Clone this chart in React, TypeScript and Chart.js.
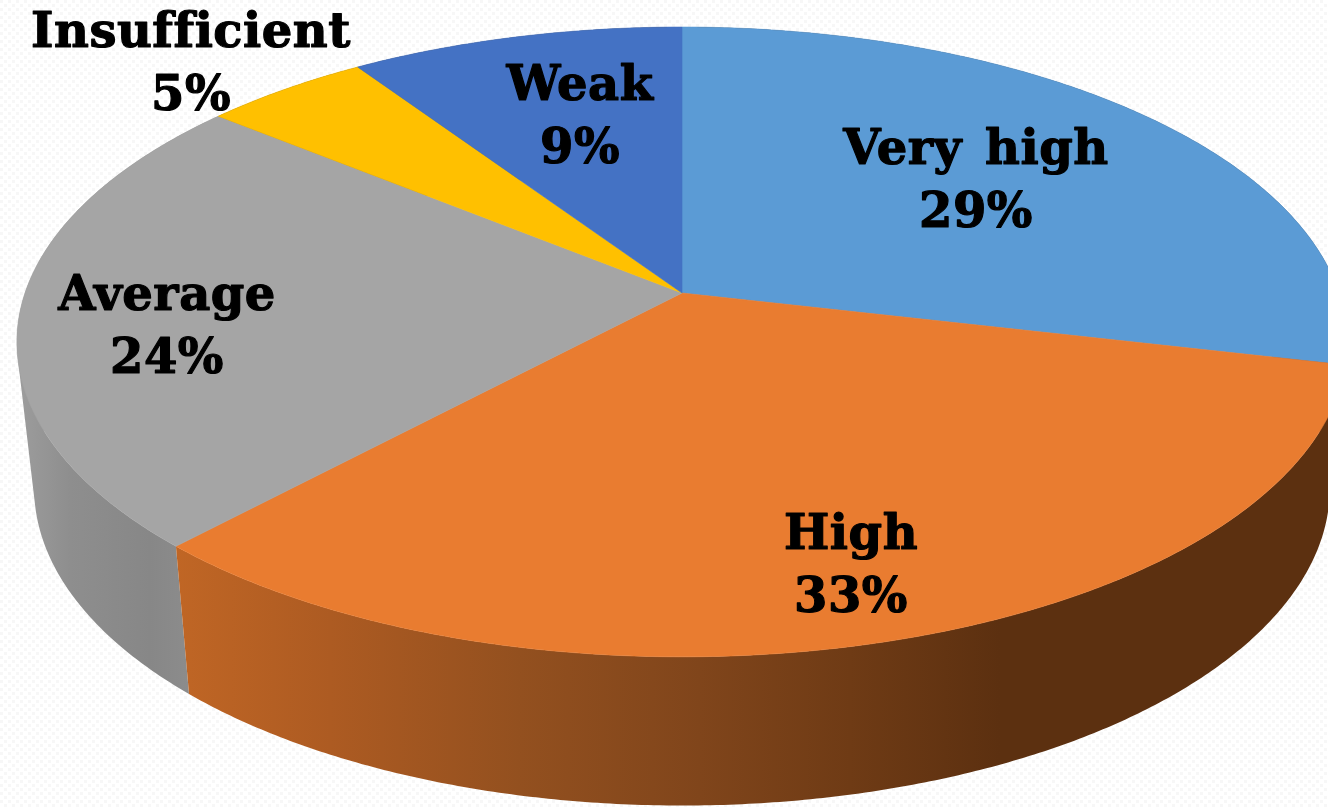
import React, { useEffect, useRef } from "react";
import { Chart, registerables } from "chart.js";

Chart.register(...registerables);

// Data
const categories = ["Very high", "High", "Average", "Insufficient", "Weak"];
const shares = [28.6, 33.3, 23.9, 4.7, 9.4];
const sliceColors = ["#5B9BD5", "#E97C30", "#A5A5A5", "#FFC000", "#4472C4"];

// Label anchors: [centre x, name baseline y]
const labelAnchors: [number, number][] = [
  [976, 164],
  [851, 549],
  [167, 310],
  [191, 47],
  [580, 100],
];

// Projection of the flat disc to the tilted view
const K = 0.1554;
const topDisc = { x: 682, y: 293, a: 657, b: 307.3 };
const lowDisc = { x: 682, y: 438.5, a: 640, b: 310 };

function project(d: typeof topDisc, angle: number): [number, number] {
  const u = Math.cos(angle);
  const v = Math.sin(angle);
  const w = 1 - K * v;
  return [d.x + (d.a * u) / w, d.y + (d.b * v) / w];
}

function samples(start: number, end: number): number[] {
  const n = Math.max(8, Math.ceil(Math.abs(end - start) * 120));
  const out: number[] = [];
  for (let i = 0; i <= n; i++) out.push(start + ((end - start) * i) / n);
  return out;
}

function wallFill(ctx: CanvasRenderingContext2D, index: number) {
  const g = ctx.createLinearGradient(20, 0, 1060, 0);
  const x = (px: number) => (px - 20) / 1040;
  if (index === 1) {
    g.addColorStop(x(175), "#C06625");
    g.addColorStop(x(330), "#AD5B22");
    g.addColorStop(x(520), "#93501F");
    g.addColorStop(x(700), "#80451B");
    g.addColorStop(x(850), "#6F3B15");
    g.addColorStop(x(1000), "#5C3010");
    g.addColorStop(1, "#5C3010");
    return g;
  }
  if (index === 2) {
    g.addColorStop(0, "#9C9C9C");
    g.addColorStop(x(70), "#8E8E8E");
    g.addColorStop(x(150), "#878787");
    g.addColorStop(x(190), "#8C8C8C");
    return g;
  }
  return "#3A3A3A";
}

function paperPattern(ctx: CanvasRenderingContext2D) {
  const tile = document.createElement("canvas");
  tile.width = 8;
  tile.height = 8;
  const t = tile.getContext("2d")!;
  t.fillStyle = "#FFFFFF";
  t.fillRect(0, 0, 8, 8);
  t.fillStyle = "#F7F7F7";
  t.fillRect(0, 0, 3, 3);
  t.fillRect(4, 4, 3, 3);
  return ctx.createPattern(tile, "repeat")!;
}

const pie3d = {
  id: "pie3d",
  beforeDraw(chart: Chart) {
    const ctx = chart.ctx;
    ctx.save();
    ctx.fillStyle = paperPattern(ctx);
    ctx.fillRect(0, 0, chart.width, chart.height);
    ctx.restore();
  },
  beforeDatasetDraw(chart: Chart) {
    const ctx = chart.ctx;
    const arcs = chart.getDatasetMeta(0).data as any[];
    // side walls, back to front: one path of equally wound strips, so folds stay filled
    [4, 3, 0, 2, 1].forEach((i) => {
      const { startAngle, endAngle } = arcs[i];
      const angles = samples(startAngle, endAngle);
      ctx.beginPath();
      for (let j = 0; j < angles.length - 1; j++) {
        const quad = [
          project(topDisc, angles[j]),
          project(topDisc, angles[j + 1]),
          project(lowDisc, angles[j + 1]),
          project(lowDisc, angles[j]),
        ];
        let area = 0;
        quad.forEach(([x, y], q) => {
          const [nx, ny] = quad[(q + 1) % 4];
          area += x * ny - nx * y;
        });
        if (area < 0) quad.reverse();
        quad.forEach(([x, y], q) => (q ? ctx.lineTo(x, y) : ctx.moveTo(x, y)));
        ctx.closePath();
      }
      ctx.fillStyle = wallFill(ctx, i);
      ctx.fill("nonzero");
    });
    // top face
    arcs.forEach((arc) => {
      ctx.beginPath();
      ctx.moveTo(topDisc.x, topDisc.y);
      samples(arc.startAngle, arc.endAngle).forEach((t) => {
        const [x, y] = project(topDisc, t);
        ctx.lineTo(x, y);
      });
      ctx.closePath();
      ctx.fillStyle = arc.options.backgroundColor;
      ctx.strokeStyle = arc.options.backgroundColor;
      ctx.lineWidth = 0.6;
      ctx.fill();
      ctx.stroke();
    });
    return false;
  },
  afterDatasetsDraw(chart: Chart) {
    const ctx = chart.ctx;
    const names = chart.data.labels as string[];
    const values = chart.data.datasets[0].data as number[];
    ctx.save();
    ctx.fillStyle = "#000";
    ctx.strokeStyle = "#000";
    ctx.lineWidth = 1.2;
    ctx.lineJoin = "round";
    ctx.textAlign = "center";
    ctx.textBaseline = "alphabetic";
    ctx.font = 'bold 48px "DejaVu Serif"';
    (ctx as any).letterSpacing = "0.5px";
    (ctx as any).wordSpacing = "6px";
    const put = (text: string, x: number, y: number) => {
      ctx.fillText(text, x, y);
      ctx.strokeText(text, x, y);
    };
    names.forEach((name, i) => {
      const [x, y] = labelAnchors[i];
      put(name, x, y);
      put(`${Math.round(values[i])}%`, x, y + 63);
    });
    ctx.restore();
  },
};

export default function App() {
  const ref = useRef<HTMLCanvasElement>(null);
  useEffect(() => {
    const chart = new Chart(ref.current!, {
      type: "pie",
      data: {
        labels: categories,
        datasets: [{ data: shares, backgroundColor: sliceColors, borderWidth: 0 }],
      },
      options: {
        animation: false,
        responsive: false,
        plugins: { legend: { display: false }, tooltip: { enabled: false } },
      },
      plugins: [pie3d],
    });
    return () => chart.destroy();
  }, []);
  return (
    <canvas
      ref={ref}
      width={1328}
      height={807}
      style={{
        position: "fixed",
        left: 0,
        top: 0,
        display: "block",
        filter: "blur(0.4px)",
      }}
    />
  );
}
